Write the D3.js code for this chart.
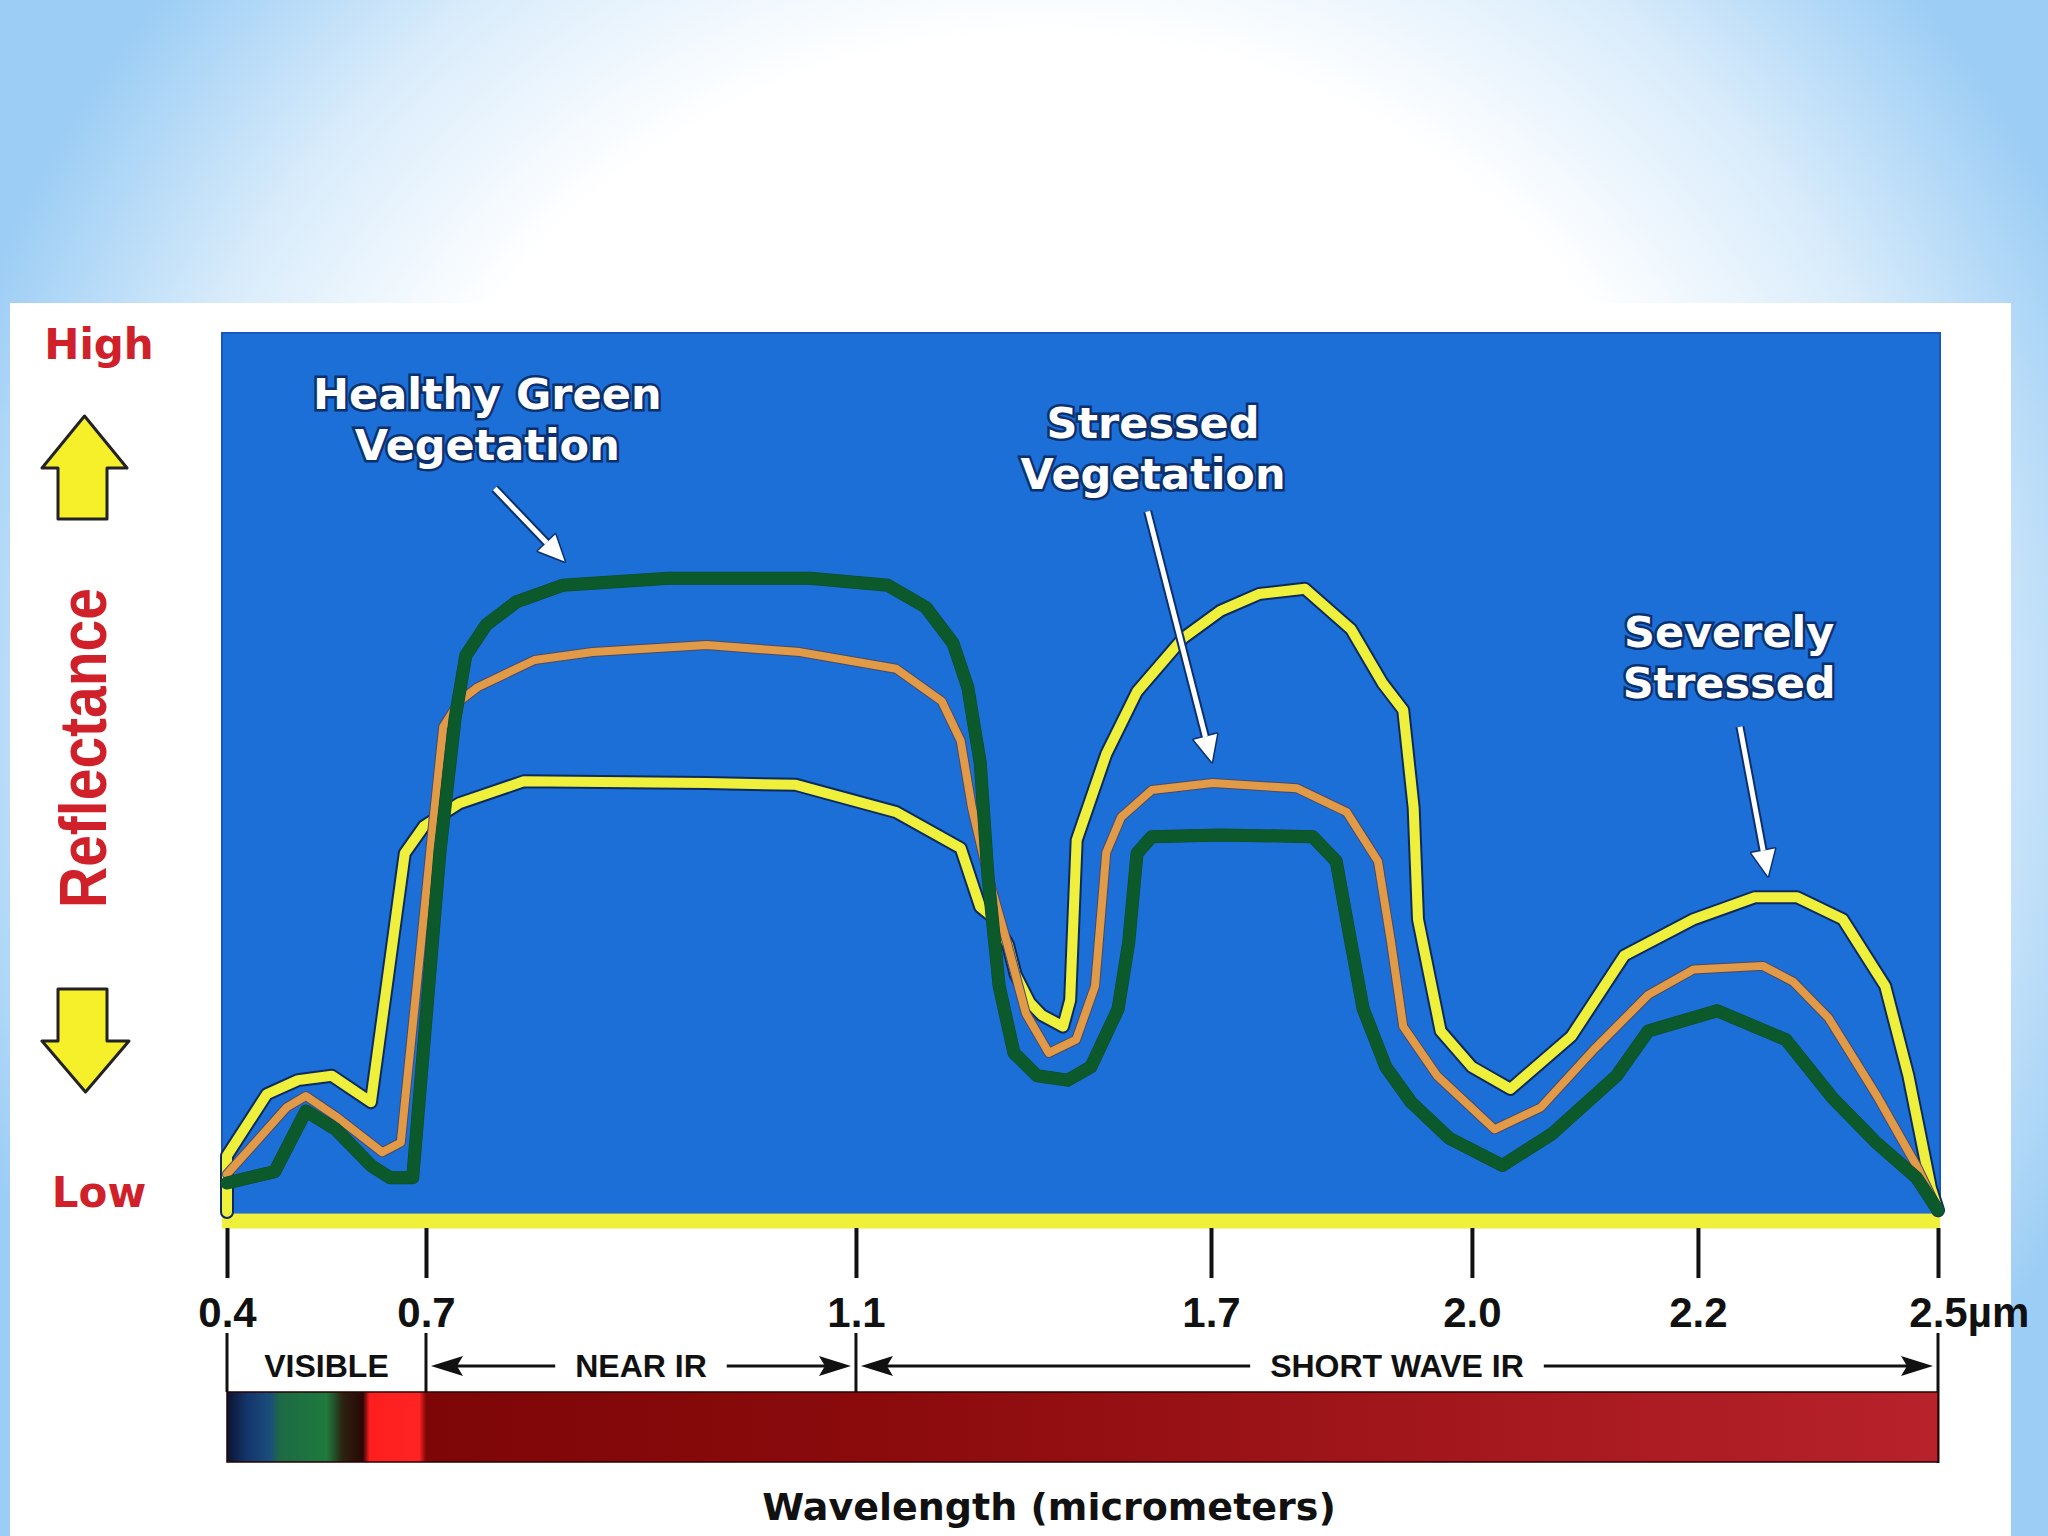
<!DOCTYPE html>
<html>
<head>
<meta charset="utf-8">
<script src="https://cdn.jsdelivr.net/npm/d3@7"></script>
<style>
  html, body { margin: 0; padding: 0; background: #fff; }
  svg { display: block; }
</style>
</head>
<body>
<div id="chart"></div>
<script>
// ---- data (wavelength in µm, relative reflectance 0-100) ----
const wavelengthTicks = [0.4, 0.7, 1.1, 1.7, 2.0, 2.2, 2.5];
const tickLabels = ["0.4", "0.7", "1.1", "1.7", "2.0", "2.2", "2.5"];
const tickUnit = "µm";
const regionNames = ["VISIBLE", "NEAR IR", "SHORT WAVE IR"];
const regionBounds = [0.4, 0.7, 1.1, 2.5];

const healthyGreen = [
  [0.40, 3.3], [0.472, 4.6], [0.519, 11.5], [0.564, 9.4], [0.617, 5.3], [0.646, 3.9],
  [0.680, 3.9], [0.713, 41.0], [0.727, 56.1], [0.737, 63.3], [0.756, 66.8], [0.784, 69.4],
  [0.827, 71.3], [0.926, 72.1], [1.057, 72.1], [1.154, 71.3], [1.218, 68.8], [1.264, 64.7],
  [1.289, 59.7], [1.310, 51.1], [1.323, 38.3], [1.342, 25.7], [1.367, 18.1], [1.406, 15.5],
  [1.458, 15.0], [1.497, 16.5], [1.543, 23.1], [1.561, 30.7], [1.575, 40.8], [1.600, 42.7],
  [1.711, 42.9], [1.817, 42.7], [1.844, 39.9], [1.856, 33.3], [1.875, 23.1], [1.901, 16.5],
  [1.930, 12.5], [1.974, 8.4], [2.027, 5.3], [2.071, 8.9], [2.128, 15.5], [2.156, 20.6],
  [2.224, 22.9], [2.310, 19.6], [2.368, 13.0], [2.424, 7.8], [2.473, 3.9], [2.5, 0.2]
];

const stressedVegetation = [
  [0.40, 4.3], [0.490, 11.9], [0.519, 13.2], [0.564, 10.9], [0.634, 6.8], [0.662, 7.9],
  [0.686, 25.7], [0.706, 43.5], [0.716, 55.2], [0.731, 58.1], [0.748, 59.7], [0.801, 62.8],
  [0.855, 63.7], [0.961, 64.5], [1.048, 63.7], [1.168, 61.8], [1.245, 58.1], [1.277, 53.6],
  [1.296, 46.0], [1.323, 38.3], [1.355, 30.7], [1.387, 22.6], [1.426, 18.1], [1.472, 19.6],
  [1.504, 25.7], [1.523, 40.9], [1.548, 44.9], [1.600, 48.0], [1.702, 48.8], [1.799, 48.2],
  [1.856, 45.5], [1.892, 39.9], [1.907, 30.7], [1.921, 21.1], [1.960, 15.5], [2.020, 9.4],
  [2.061, 11.9], [2.108, 18.5], [2.156, 24.7], [2.196, 27.6], [2.281, 28.0], [2.319, 26.2],
  [2.363, 22.1], [2.425, 13.0], [2.473, 5.3], [2.5, 0.2]
];

const severelyStressed = [
  [0.40, 0], [0.40, 6.4], [0.460, 13.4], [0.507, 15.0], [0.558, 15.5], [0.617, 12.5],
  [0.668, 40.8], [0.697, 43.9], [0.731, 46.5], [0.791, 49.0], [0.961, 48.8], [1.044, 48.6],
  [1.168, 45.5], [1.277, 41.4], [1.310, 34.7], [1.330, 33.6], [1.357, 30.4], [1.370, 27.0],
  [1.394, 23.8], [1.414, 22.4], [1.450, 21.1], [1.462, 24.1], [1.473, 42.3], [1.523, 52.1],
  [1.575, 59.2], [1.653, 65.3], [1.711, 68.4], [1.755, 70.3], [1.808, 70.9], [1.861, 66.3],
  [1.897, 60.2], [1.921, 57.1], [1.933, 46.0], [1.938, 33.3], [1.964, 20.6], [2.000, 16.5],
  [2.034, 14.0], [2.088, 20.0], [2.135, 29.2], [2.196, 33.3], [2.271, 35.8], [2.324, 35.8],
  [2.381, 33.3], [2.434, 25.7], [2.463, 15.5], [2.491, 2.8], [2.5, 0.2]
];

const labelLines = [["Healthy Green", "Vegetation"], ["Stressed", "Vegetation"], ["Severely", "Stressed"]];

// ---- layout ----
const W = 2048, H = 1536;
const plot = { left: 222, right: 1940, top: 333, bottom: 1214 };
const axisLeft = 227, axisLen = 1711;
// the printed axis is not linear: where each tick sits along it
const tickFrac = [0, 0.1163, 0.3676, 0.5751, 0.7276, 0.8597, 1];
// label anchor, arrow start, arrow tip (data units)
const labelAt = [
  { text: [0.757, 91.3], from: [0.764, 82.3], to: [0.829, 74.0] },
  { text: [1.602, 88.1], from: [1.593, 79.7], to: [1.701, 51.2] },
  { text: [2.239, 64.3], from: [2.2525, 55.2], to: [2.2875, 38.2] }
];
const spectrumStops = [
  [0.40, "#0b1430"], [0.43, "#14356b"], [0.465, "#1a4d7c"], [0.48, "#1d6a44"],
  [0.55, "#1f7a3e"], [0.575, "#2b2210"], [0.605, "#2a0606"], [0.615, "#ff1e1e"],
  [0.69, "#ff2424"], [0.70, "#7e0606"], [1.2, "#8c0b0d"], [2.5, "#b8222a"]
];

const boldWide = "'DejaVu Sans', sans-serif";
const boldArial = "'Liberation Sans', Arial, sans-serif";

const svg = d3.select("#chart").append("svg")
  .attr("width", W)
  .attr("height", H);

const defs = svg.append("defs");
const bg = defs.append("radialGradient")
  .attr("id", "bg")
  .attr("gradientUnits", "userSpaceOnUse")
  .attr("cx", 1040).attr("cy", 720).attr("r", 1140);
bg.append("stop").attr("offset", 0).attr("stop-color", "#ffffff");
bg.append("stop").attr("offset", 0.6).attr("stop-color", "#ffffff");
bg.append("stop").attr("offset", 0.8).attr("stop-color", "#d9ecfb");
bg.append("stop").attr("offset", 1).attr("stop-color", "#9ccdf5");

svg.append("rect").attr("width", W).attr("height", H).attr("fill", "url(#bg)");
svg.append("rect")
  .attr("x", 10).attr("y", 303)
  .attr("width", 2001).attr("height", H - 303)
  .attr("fill", "#ffffff");

const x = d3.scaleLinear()
  .domain(wavelengthTicks)
  .range(tickFrac.map(f => axisLeft + f * axisLen));
const y = d3.scaleLinear().domain([0, 100]).range([1212, plot.top]);

// plot background
svg.append("rect")
  .attr("x", plot.left).attr("y", plot.top)
  .attr("width", plot.right - plot.left)
  .attr("height", plot.bottom - plot.top)
  .attr("fill", "#1b6fd6")
  .attr("stroke", "#1858bc")
  .attr("stroke-width", 2);

// yellow base line
svg.append("line")
  .attr("x1", plot.left).attr("x2", plot.right)
  .attr("y1", y(0) + 9).attr("y2", y(0) + 9)
  .attr("stroke", "#eef03a")
  .attr("stroke-width", 15);

// curves
const line = d3.line().x(d => x(d[0])).y(d => y(d[1]));
const series = [
  { data: severelyStressed, color: "#eef03c", width: 10, edge: "#0d2a5c", edgeWidth: 14 },
  { data: stressedVegetation, color: "#e09a48", width: 8, edge: "#4a4a66", edgeWidth: 10 },
  { data: healthyGreen, color: "#0c5a2c", width: 12, edge: "#0a4a24", edgeWidth: 13 }
];
series.forEach(s => {
  svg.append("path")
    .attr("d", line(s.data))
    .attr("fill", "none")
    .attr("stroke", s.edge)
    .attr("stroke-width", s.edgeWidth)
    .attr("stroke-linejoin", "round")
    .attr("stroke-linecap", "round");
  svg.append("path")
    .attr("d", line(s.data))
    .attr("fill", "none")
    .attr("stroke", s.color)
    .attr("stroke-width", s.width)
    .attr("stroke-linejoin", "round")
    .attr("stroke-linecap", "round");
});

// annotations
labelLines.forEach((lines, i) => {
  const pos = labelAt[i];
  const t = svg.append("text")
    .attr("x", x(pos.text[0]))
    .attr("y", y(pos.text[1]))
    .attr("text-anchor", "middle")
    .style("font-family", boldWide)
    .style("font-weight", "bold")
    .style("font-size", "43px")
    .attr("fill", "#ffffff")
    .attr("stroke", "#0c2f6e")
    .attr("stroke-width", 5)
    .attr("paint-order", "stroke");
  lines.forEach((l, j) => {
    t.append("tspan")
      .attr("x", x(pos.text[0]))
      .attr("dy", j === 0 ? 0 : 51)
      .text(l);
  });

  const x0 = x(pos.from[0]), y0 = y(pos.from[1]);
  const x1 = x(pos.to[0]), y1 = y(pos.to[1]);
  const a = Math.atan2(y1 - y0, x1 - x0);
  const headLen = 26, headHalf = 12;
  const bx = x1 - headLen * Math.cos(a), by = y1 - headLen * Math.sin(a);
  const px = -Math.sin(a) * headHalf, py = Math.cos(a) * headHalf;
  const head = `M${x1},${y1}L${bx + px},${by + py}L${bx - px},${by - py}Z`;
  [["#0c2f6e", 9, 3], ["#ffffff", 5, 0]].forEach(([c, w, hw]) => {
    svg.append("line")
      .attr("x1", x0).attr("y1", y0).attr("x2", bx).attr("y2", by)
      .attr("stroke", c).attr("stroke-width", w);
    svg.append("path")
      .attr("d", head)
      .attr("fill", c)
      .attr("stroke", c)
      .attr("stroke-width", hw)
      .attr("stroke-linejoin", "round");
  });
});

// left side: High / Low / Reflectance and yellow block arrows
svg.append("text")
  .attr("x", 99).attr("y", 359)
  .attr("text-anchor", "middle")
  .style("font-family", boldWide).style("font-weight", "bold").style("font-size", "42px")
  .attr("fill", "#d0202a")
  .text("High");
svg.append("text")
  .attr("x", 99).attr("y", 1207)
  .attr("text-anchor", "middle")
  .style("font-family", boldWide).style("font-weight", "bold").style("font-size", "42px")
  .attr("fill", "#d0202a")
  .text("Low");
svg.append("text")
  .attr("transform", "translate(106,748) rotate(-90)")
  .attr("text-anchor", "middle")
  .style("font-family", boldArial).style("font-weight", "bold").style("font-size", "66px")
  .attr("textLength", 320)
  .attr("lengthAdjust", "spacingAndGlyphs")
  .attr("fill", "#d0202a")
  .text("Reflectance");

svg.append("path")
  .attr("d", "M84.5,416L127,468L107,468L107,519L58,519L58,468L42,468Z")
  .attr("fill", "#f5f02a").attr("stroke", "#222").attr("stroke-width", 3)
  .attr("stroke-linejoin", "round");
svg.append("path")
  .attr("d", "M58,989L107,989L107,1041L129,1041L85.5,1092L42,1041L58,1041Z")
  .attr("fill", "#f5f02a").attr("stroke", "#222").attr("stroke-width", 3)
  .attr("stroke-linejoin", "round");

// x axis
const xAxis = svg.append("g")
  .attr("transform", "translate(0,1228)")
  .call(d3.axisBottom(x)
    .tickValues(wavelengthTicks)
    .tickSize(50)
    .tickPadding(19)
    .tickFormat((d, i) => tickLabels[i]));
xAxis.select(".domain").remove();
xAxis.selectAll(".tick line").attr("stroke", "#111").attr("stroke-width", 4);
xAxis.selectAll(".tick text")
  .attr("fill", "#111")
  .style("font-family", boldArial)
  .style("font-weight", "bold")
  .style("font-size", "42px");
const lastLabel = xAxis.selectAll(".tick text").filter((d, i, n) => i === n.length - 1);
const numW = lastLabel.node().getComputedTextLength();
lastLabel.attr("text-anchor", "start").attr("x", -numW / 2);
lastLabel.append("tspan").text(tickUnit);

// region row
const rowY = 1366;
regionBounds.forEach((b, i) => {
  svg.append("line")
    .attr("x1", x(b)).attr("x2", x(b))
    .attr("y1", 1333)
    .attr("y2", i === regionBounds.length - 1 ? 1463 : 1392)
    .attr("stroke", "#111").attr("stroke-width", 3);
});

function arrowHead(tipX, dir) {
  svg.append("path")
    .attr("d", `M${tipX},${rowY}L${tipX + dir * 32},${rowY - 10}L${tipX + dir * 26},${rowY}L${tipX + dir * 32},${rowY + 10}Z`)
    .attr("fill", "#111");
}

regionNames.forEach((name, i) => {
  const a = x(regionBounds[i]), b = x(regionBounds[i + 1]);
  const t = svg.append("text")
    .attr("x", (a + b) / 2).attr("y", 1377)
    .attr("text-anchor", "middle")
    .style("font-family", boldArial).style("font-weight", "bold").style("font-size", "32px")
    .attr("fill", "#111")
    .text(name);
  if (i === 0) return;
  const w = t.node().getComputedTextLength();
  const gap = 20;
  const l0 = a + 5, l1 = (a + b) / 2 - w / 2 - gap;
  const r0 = (a + b) / 2 + w / 2 + gap, r1 = b - 5;
  svg.append("line").attr("x1", l0 + 20).attr("x2", l1).attr("y1", rowY).attr("y2", rowY)
    .attr("stroke", "#111").attr("stroke-width", 3);
  svg.append("line").attr("x1", r0).attr("x2", r1 - 20).attr("y1", rowY).attr("y2", rowY)
    .attr("stroke", "#111").attr("stroke-width", 3);
  arrowHead(l0, 1);
  arrowHead(r1, -1);
});

// spectrum bar
const x0 = x(regionBounds[0]), x1 = x(regionBounds[regionBounds.length - 1]);
const spec = defs.append("linearGradient")
  .attr("id", "spectrum")
  .attr("gradientUnits", "userSpaceOnUse")
  .attr("x1", x0).attr("x2", x1).attr("y1", 0).attr("y2", 0);
spectrumStops.forEach(s => {
  spec.append("stop")
    .attr("offset", (x(s[0]) - x0) / (x1 - x0))
    .attr("stop-color", s[1]);
});
svg.append("rect")
  .attr("x", x0).attr("y", 1392)
  .attr("width", x1 - x0).attr("height", 70)
  .attr("fill", "url(#spectrum)")
  .attr("stroke", "#2a0000").attr("stroke-width", 1.5);

svg.append("text")
  .attr("x", 1049).attr("y", 1520)
  .attr("text-anchor", "middle")
  .style("font-family", boldWide).style("font-weight", "bold").style("font-size", "38px")
  .attr("fill", "#111")
  .text("Wavelength (micrometers)");
</script>
</body>
</html>
